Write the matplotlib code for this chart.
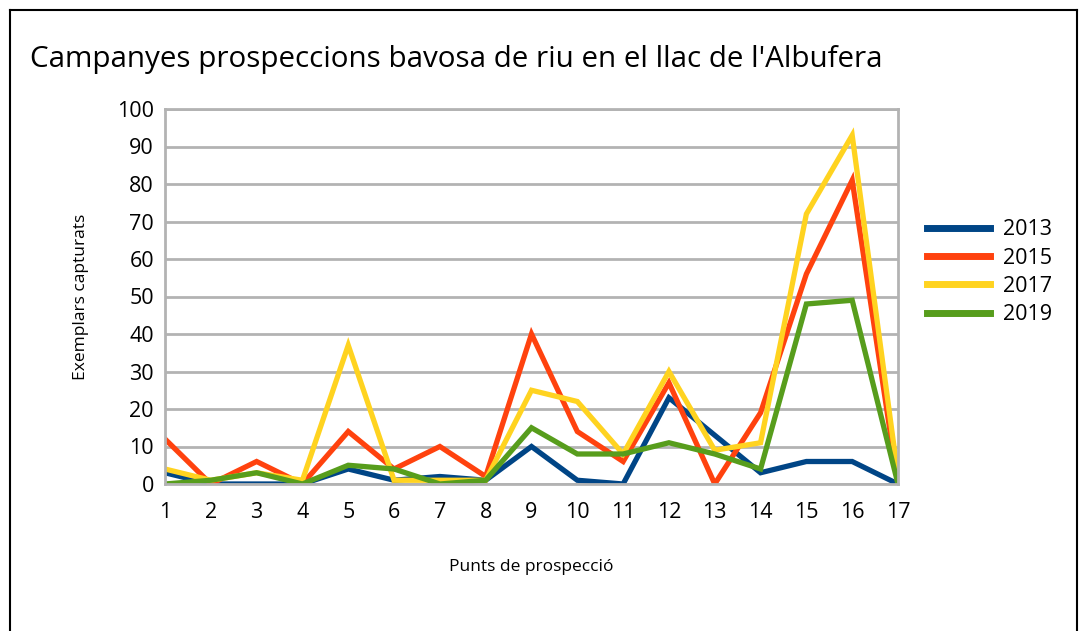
import matplotlib.pyplot as plt
from matplotlib.lines import Line2D

punts = list(range(1, 18))
anys = ["2013", "2015", "2017", "2019"]
v2013 = [3, 0, 0, 0, 4, 1, 2, 1, 10, 1, 0, 23, 13, 3, 6, 6, 0]
v2015 = [12, 0, 6, 0, 14, 4, 10, 2, 40, 14, 6, 27, 0, 19, 56, 81, 0]
v2017 = [4, 1, 3, 1, 37, 1, 1, 1, 25, 22, 8, 30, 9, 11, 72, 93, 2]
v2019 = [0, 1, 3, 0, 5, 4, 0, 1, 15, 8, 8, 11, 8, 4, 48, 49, 0]
colors = ["#004586", "#ff420e", "#ffd320", "#579d1c"]

plt.rcParams["font.family"] = ["Open Sans", "DejaVu Sans"]

W, H = 1085, 631
fig = plt.figure(figsize=(W / 100, H / 100), dpi=100)
ax = fig.add_axes([165 / W, 1 - 484 / H, (898 - 165) / W, (484 - 109) / H])

for serie, nom, c in zip([v2013, v2015, v2017, v2019], anys, colors):
    ax.plot(punts, serie, color=c, linewidth=3.8, label=nom, solid_joinstyle="miter")

ax.set_xlim(1, 17)
ax.set_ylim(0, 100)
ax.set_xticks(punts)
ax.set_yticks(range(0, 101, 10))
ax.tick_params(length=0, labelsize=15.5)
ax.tick_params(axis="x", pad=13)
ax.tick_params(axis="y", pad=8)
ax.grid(axis="y", color="#b3b3b3", linewidth=2)
ax.set_axisbelow(True)
for s in ax.spines.values():
    s.set_color("#b3b3b3")
    s.set_linewidth(2)

ax.set_xlabel("Punts de prospecció", fontsize=12.5, labelpad=26)
ax.set_ylabel("Exemplars capturats", fontsize=12.5, labelpad=20)

fig.text(30 / W, 1 - 60 / H, "Campanyes prospeccions bavosa de riu en el llac de l'Albufera",
         fontsize=21.3, va="center", ha="left")

handles = [Line2D([], [], color=c, linewidth=5) for c in colors]
fig.legend(handles, anys, loc="upper left", bbox_to_anchor=(908 / W, 1 - 200 / H),
           frameon=False, fontsize=15.5, handlelength=2.9, labelspacing=0.34, handletextpad=0.6)

# marc exterior
fig.add_artist(Line2D([10 / W, 1077 / W], [1 - 10 / H, 1 - 10 / H], color="black", linewidth=1.5, transform=fig.transFigure))
fig.add_artist(Line2D([10 / W, 10 / W], [0, 1 - 10 / H], color="black", linewidth=1.5, transform=fig.transFigure))
fig.add_artist(Line2D([1077 / W, 1077 / W], [0, 1 - 10 / H], color="black", linewidth=1.5, transform=fig.transFigure))

fig.savefig("out.png", dpi=100)
